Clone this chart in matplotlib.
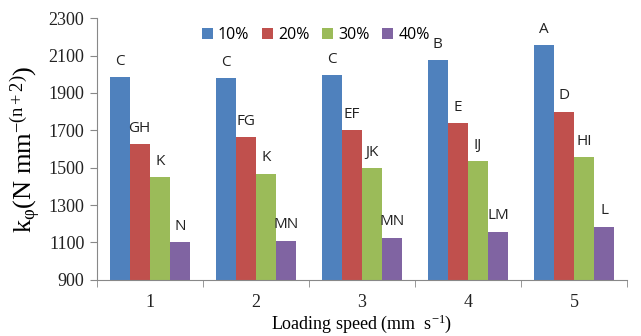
import numpy as np
import matplotlib.pyplot as plt

plt.rcParams['mathtext.fontset'] = 'custom'
plt.rcParams['mathtext.rm'] = 'Liberation Serif'
plt.rcParams['mathtext.it'] = 'Liberation Serif:italic'

# loading speed groups
speeds = ['1', '2', '3', '4', '5']
series_names = ['10%', '20%', '30%', '40%']

k10 = [1985, 1980, 1995, 2075, 2155]
k20 = [1625, 1662, 1700, 1737, 1800]
k30 = [1450, 1468, 1497, 1535, 1557]
k40 = [1103, 1110, 1125, 1157, 1185]

lab10 = ['C', 'C', 'C', 'B', 'A']
lab20 = ['GH', 'FG', 'EF', 'E', 'D']
lab30 = ['K', 'K', 'JK', 'IJ', 'HI']
lab40 = ['N', 'MN', 'MN', 'LM', 'L']

colors = ['#4F81BD', '#C0504D', '#9BBB59', '#8064A2']

fig = plt.figure(figsize=(6.41, 3.36), dpi=100)
ax = fig.add_axes([0.151, 0.167, 0.827, 0.779])

x = np.arange(len(speeds))
w = 0.19
values = [k10, k20, k30, k40]
labels = [lab10, lab20, lab30, lab40]

for i, (vals, labs) in enumerate(zip(values, labels)):
    pos = x + (i - 1.5) * w
    ax.bar(pos, vals, width=w, color=colors[i], label=series_names[i], zorder=2)
    for p, v, t in zip(pos, vals, labs):
        ax.text(p, v + 45, t, ha='center', va='bottom', fontsize=11,
                family='Open Sans', color='#222222')

ax.set_ylim(900, 2300)
ax.set_yticks(range(900, 2301, 200))
ax.set_xlim(-0.5, len(speeds) - 0.5)
ax.set_xticks(x)
ax.set_xticklabels(speeds)
ax.set_xticks(np.arange(-0.5, len(speeds), 1), minor=True)
ax.tick_params(axis='x', which='major', length=0, pad=10)
ax.tick_params(axis='x', which='minor', length=5, color='#888888')
ax.tick_params(axis='y', length=5, color='#888888', pad=4)

for lbl in ax.get_xticklabels() + ax.get_yticklabels():
    lbl.set_family('Liberation Serif')
    lbl.set_fontsize(13)
    lbl.set_color('#222222')

for s in ['top', 'right']:
    ax.spines[s].set_visible(False)
for s in ['left', 'bottom']:
    ax.spines[s].set_color('#888888')

ax.set_xlabel(r'Loading speed (mm  s$^{\mathrm{-1}}$)', family='Liberation Serif',
              fontsize=13, labelpad=1)
ax.set_ylabel(r'k$_{\mathrm{\varphi}}$(N mm$^{\mathrm{-(n+2)}}$)', family='Liberation Serif',
              fontsize=19, labelpad=4)

leg = ax.legend(loc='upper center', bbox_to_anchor=(0.413, 1.02), ncol=4,
                frameon=False, handlelength=0.7, handleheight=0.7,
                handletextpad=0.3, columnspacing=0.8,
                prop={'family': 'Open Sans', 'size': 11.5})

fig.savefig('out.png', dpi=100)
